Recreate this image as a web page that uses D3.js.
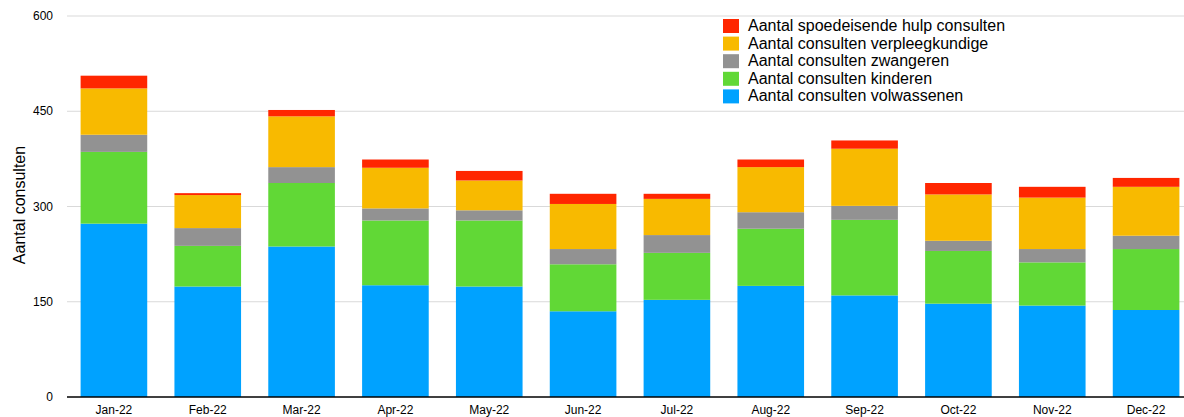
<!DOCTYPE html>
<html>
<head>
<meta charset="utf-8">
<script src="https://cdn.jsdelivr.net/npm/d3@7"></script>
<style>
  body { margin: 0; background: #fff; }
  svg { display: block; font-family: "Liberation Sans", Arial, sans-serif; }
</style>
</head>
<body>
<svg id="chart" width="1184" height="417"></svg>
<script>
const months = ["Jan-22", "Feb-22", "Mar-22", "Apr-22", "May-22", "Jun-22",
                "Jul-22", "Aug-22", "Sep-22", "Oct-22", "Nov-22", "Dec-22"];

// stacked from bottom to top
const volwassenen     = [273, 174, 237, 176, 174, 135, 153, 175, 160, 147, 144, 137];
const kinderen        = [113,  64, 100, 102, 104,  74,  74,  90, 119,  83,  68,  96];
const zwangeren       = [ 27,  28,  25,  19,  16,  24,  28,  26,  22,  16,  21,  21];
const verpleegkundige = [ 73,  52,  80,  64,  47,  71,  57,  71,  90,  73,  81,  77];
const spoedeisend     = [ 20,   3,  10,  13,  15,  16,   8,  12,  13,  18,  17,  14];

const seriesNames = [
  "Aantal consulten volwassenen",
  "Aantal consulten kinderen",
  "Aantal consulten zwangeren",
  "Aantal consulten verpleegkundige",
  "Aantal spoedeisende hulp consulten"
];
const seriesColors = ["#00a2ff", "#61d836", "#929292", "#f8ba00", "#ff2600"];
const yTicks = [0, 150, 300, 450, 600];

const svg = d3.select("#chart");
const margin = { top: 16, left: 67, bottom: 20 };
const plotBottom = 397;

const keys = ["v", "k", "z", "p", "s"];
const table = months.map((m, i) => ({
  month: m,
  v: volwassenen[i], k: kinderen[i], z: zwangeren[i],
  p: verpleegkundige[i], s: spoedeisend[i]
}));

const x = d3.scaleBand()
  .domain(months)
  .range([margin.left, 1193])
  .paddingInner(0.29)
  .paddingOuter(0.145);

const y = d3.scaleLinear()
  .domain([0, 600])
  .range([plotBottom, margin.top]);

// gridlines
svg.append("g")
  .selectAll("line")
  .data(yTicks.filter(d => d > 0))
  .join("line")
  .attr("x1", margin.left)
  .attr("x2", 1184)
  .attr("y1", d => y(d))
  .attr("y2", d => y(d))
  .attr("stroke", "#d9d9d9")
  .attr("stroke-width", 1);

// bars
const stacked = d3.stack().keys(keys)(table);
svg.append("g")
  .selectAll("g")
  .data(stacked)
  .join("g")
  .attr("fill", (d, i) => seriesColors[i])
  .selectAll("rect")
  .data(d => d)
  .join("rect")
  .attr("x", d => x(d.data.month))
  .attr("width", x.bandwidth())
  .attr("y", d => y(d[1]))
  .attr("height", d => y(d[0]) - y(d[1]));

// baseline
svg.append("line")
  .attr("x1", margin.left)
  .attr("x2", 1184)
  .attr("y1", y(0))
  .attr("y2", y(0))
  .attr("stroke", "#000")
  .attr("stroke-width", 1.5);

// y tick labels
svg.append("g")
  .selectAll("text")
  .data(yTicks)
  .join("text")
  .attr("x", 53)
  .attr("y", d => y(d) + 4)
  .attr("text-anchor", "end")
  .style("font-size", "12px")
  .text(d => d);

// x tick labels
svg.append("g")
  .selectAll("text")
  .data(months)
  .join("text")
  .attr("x", d => x(d) + x.bandwidth() / 2)
  .attr("y", 414)
  .attr("text-anchor", "middle")
  .style("font-size", "12px")
  .text(d => d);

// y axis title
svg.append("text")
  .attr("transform", "translate(25,205) rotate(-90)")
  .attr("text-anchor", "middle")
  .style("font-size", "16px")
  .text("Aantal consulten");

// legend (top entry is the top of the stack)
const legend = svg.append("g");
const legendItems = seriesNames.map((n, i) => ({ name: n, color: seriesColors[i] })).reverse();
legendItems.forEach((d, i) => {
  const ly = 19 + i * 17.6;
  legend.append("rect")
    .attr("x", 723)
    .attr("y", ly)
    .attr("width", 16)
    .attr("height", 14)
    .attr("fill", d.color);
  legend.append("text")
    .attr("x", 748)
    .attr("y", ly + 12)
    .style("font-size", "16px")
    .text(d.name);
});
</script>
</body>
</html>
